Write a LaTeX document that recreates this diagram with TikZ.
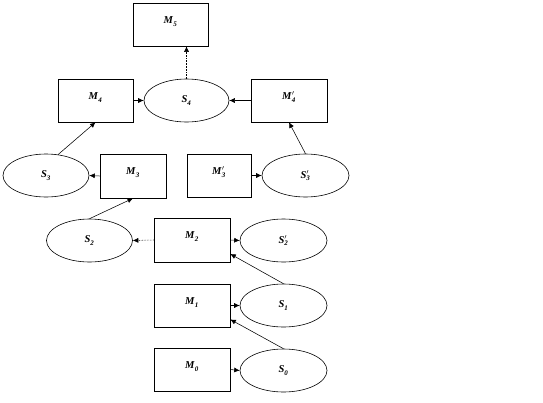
\documentclass[tikz,border=0pt]{standalone}
\usepackage{fontspec}
\setmainfont{Liberation Serif}
\usetikzlibrary{shapes.geometric,arrows.meta}
\newcommand{\lbl}[3]{\textbf{\textit{#1}}$_{\mbox{\fontsize{7}{8}\selectfont\textbf{\textit{#2}}}}^{#3}$}
\begin{document}
\begin{tikzpicture}[x=1pt,y=-1pt,
  mbox/.style={draw=black,line width=0.6pt,rectangle,minimum width=75pt,minimum height=43pt,inner sep=0pt},
  sell/.style={draw=black,line width=0.6pt,ellipse,minimum width=86pt,minimum height=43pt,inner sep=0pt,font=\fontsize{10.5}{12}\selectfont},
  tag/.style={anchor=base,inner sep=0pt,yshift=-21pt,font=\fontsize{10.5}{12}\selectfont},
  conn/.style={draw=black,line width=0.55pt,-{Latex[length=5.5pt,width=5pt]}},
  dotconn/.style={conn,densely dotted}]
\useasboundingbox (0,0) rectangle (543,402);
% boxes
\node[mbox] (M5) at (170.5,24.5) {};
\node[tag] at (M5.north) {\lbl{M}{5}{}};
\node[mbox] (M4) at (95.5,100.5) {};
\node[tag] at (M4.north) {\lbl{M}{4}{}};
\node[mbox,minimum width=76pt] (M4p) at (289,100.5) {};
\node[tag] at (M4p.north) {\lbl{M}{4}{\prime}};
\node[mbox,minimum width=66pt,minimum height=44pt] (M3) at (133,176) {};
\node[tag] at (M3.north) {\lbl{M}{3}{}};
\node[mbox,minimum width=64pt] (M3p) at (219,175.5) {};
\node[tag] at (M3p.north) {\lbl{M}{3}{\prime}};
\node[mbox,minimum width=76pt,minimum height=44pt] (M2) at (192,240) {};
\node[tag] at (M2.north) {\lbl{M}{2}{}};
\node[mbox,minimum width=76pt] (M1) at (192,305.5) {};
\node[tag] at (M1.north) {\lbl{M}{1}{}};
\node[mbox,minimum width=76pt] (M0) at (192,369.5) {};
\node[tag] at (M0.north) {\lbl{M}{0}{}};
% ellipses
\node[sell,minimum width=85pt] (S4) at (186.5,100.5) {\lbl{S}{4}{}};
\node[sell] (S3) at (46,175.5) {\lbl{S}{3}{}};
\node[sell,minimum width=87pt] (S3p) at (305.5,175.5) {\lbl{S}{3}{\prime}};
\node[sell] (S2) at (89.5,240.5) {\lbl{S}{2}{}};
\node[sell,minimum width=87pt] (S2p) at (283.5,240.5) {\lbl{S}{2}{\prime}};
\node[sell,minimum width=87pt] (S1) at (283.5,305.5) {\lbl{S}{1}{}};
\node[sell,minimum width=87pt] (S0) at (283.5,370.5) {\lbl{S}{0}{}};
% connectors
\draw[dotconn] (S4.north) -- (S4.north |- M5.south);
\draw[conn] (M4.east) -- (S4.west);
\draw[conn] (M4p.west) -- (S4.east);
\draw[conn] (S3.60) -- (M4.south);
\draw[conn] (M3.west) -- (S3.east);
\draw[conn] (M3p.east) -- (S3p.west);
\draw[conn] (S3p.north) -- (M4p.south);
\draw[conn] (S2.north) -- (M3.south);
\draw[dotconn] (M2.west) -- (S2.east);
\draw[conn] (M2.east) -- (S2p.west);
\draw[conn] (S1.north) -- (M2.-20);
\draw[conn] (M1.east) -- (S1.west);
\draw[conn] (S0.north) -- (M1.-20);
\draw[conn] (M0.east) -- (S0.west);
\end{tikzpicture}
\end{document}
